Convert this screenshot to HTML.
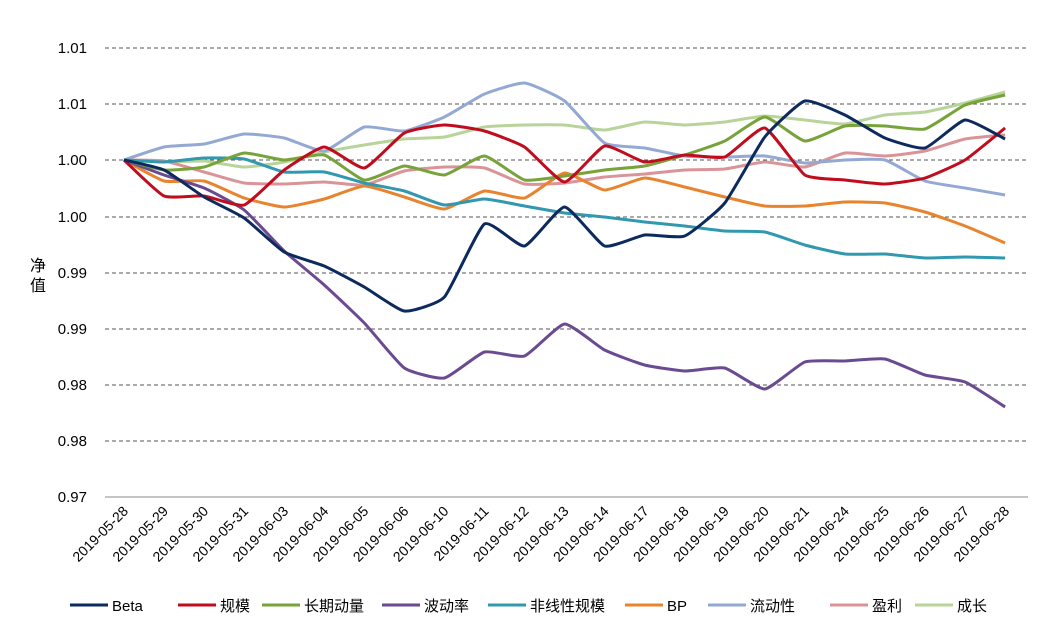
<!DOCTYPE html>
<html><head><meta charset="utf-8"><style>
body{margin:0;background:#fff;}
svg{display:block;font-family:"Liberation Sans","Noto Sans CJK SC",sans-serif;}
</style></head><body>
<svg id="chart" width="1041" height="627" viewBox="0 0 1041 627" xmlns="http://www.w3.org/2000/svg">
<g stroke="#555" stroke-dasharray="4,3" stroke-width="1">
<line x1="105" x2="1028" y1="48" y2="48"/><line x1="105" x2="1028" y1="104" y2="104"/>
<line x1="105" x2="1028" y1="160" y2="160"/><line x1="105" x2="1028" y1="217" y2="217"/>
<line x1="105" x2="1028" y1="273" y2="273"/><line x1="105" x2="1028" y1="329" y2="329"/>
<line x1="105" x2="1028" y1="385" y2="385"/><line x1="105" x2="1028" y1="441" y2="441"/>
</g>
<line x1="105" x2="1028" y1="497" y2="497" stroke="#888"/>
<g font-size="15" fill="#000" text-anchor="end">
<text x="87" y="53">1.01</text><text x="87" y="109">1.01</text><text x="87" y="165">1.00</text>
<text x="87" y="222">1.00</text><text x="87" y="278">0.99</text><text x="87" y="334">0.99</text>
<text x="87" y="390">0.98</text><text x="87" y="446">0.98</text><text x="87" y="502">0.97</text>
</g>
<text x="30" y="271" font-size="16">净</text><text x="30" y="291" font-size="16">值</text>
<g font-size="14" text-anchor="end" id="xl"></g>
<g fill="none" stroke-width="3" stroke-linejoin="round" id="series"></g>
<g font-size="15" id="leg"></g>
</svg>
<script>
var xs=[];for(var i=0;i<23;i++)xs.push(124+i*40.05);
var dates=["2019-05-28","2019-05-29","2019-05-30","2019-05-31","2019-06-03","2019-06-04","2019-06-05","2019-06-06","2019-06-10","2019-06-11","2019-06-12","2019-06-13","2019-06-14","2019-06-17","2019-06-18","2019-06-19","2019-06-20","2019-06-21","2019-06-24","2019-06-25","2019-06-26","2019-06-27","2019-06-28"];
var ns="http://www.w3.org/2000/svg";
var xl=document.getElementById("xl");
dates.forEach(function(d,i){var t=document.createElementNS(ns,"text");t.setAttribute("transform","translate("+(xs[i]+5)+",512) rotate(-45)");t.textContent=d;xl.appendChild(t);});
var S=[
["Beta","#0d2a5e",[160,170,197,218,252,266,287,311,297,224,246,207,246,235,236,203,137,101,115,138,148,120,139]],
["规模","#c00d1e",[160,196,196,205,170,147,168,133,125,131,147,182,146,162,155,157,128,175,180,184,178,160,128]],
["长期动量","#77a33a",[160,170,167,153,160,155,180,166,175,156,180,176,170,166,155,141,117,141,126,126,129,105,95]],
["波动率","#6a4b92",[160,175,188,210,251,285,323,368,378,352,356,324,350,365,371,368,389,362,361,359,375,382,407]],
["非线性规模","#3198b0",[160,162,158,159,172,172,183,191,205,199,206,213,217,222,226,231,232,245,254,254,258,257,258]],
["BP","#e8842e",[160,181,181,198,207,199,186,197,209,191,198,173,190,178,187,197,206,206,202,203,212,226,243]],
["流动性","#93a9d4",[160,147,144,134,138,151,127,131,117,94,83,101,143,148,156,157,156,163,160,160,181,188,195]],
["盈利","#da9497",[160,161,172,183,184,182,185,171,167,168,184,183,177,174,170,169,162,167,153,156,151,139,135]],
["成长","#b8d49a",[160,162,161,167,162,152,145,139,137,127,125,125,130,122,125,122,116,120,124,115,112,103,92]]];
function smooth(ys){var d="M"+xs[0]+","+ys[0];var t=0.08;var n=ys.length;
for(var i=0;i<n-1;i++){var p0=i>0?i-1:i,p3=(i+2<n)?i+2:i+1;
var c1x=xs[i]+(xs[i+1]-xs[p0])*t,c1y=ys[i]+(ys[i+1]-ys[p0])*t;
var c2x=xs[i+1]-(xs[p3]-xs[i])*t,c2y=ys[i+1]-(ys[p3]-ys[i])*t;
d+=" C"+c1x+","+c1y+" "+c2x+","+c2y+" "+xs[i+1]+","+ys[i+1];}return d;}
var g=document.getElementById("series"),lg=document.getElementById("leg");
var lx=[70,178,262,382,488,625,708,830,915];
for(var k=S.length-1;k>=0;k--){var s=S[k];var p=document.createElementNS(ns,"path");
p.setAttribute("d",smooth(s[2]));p.setAttribute("stroke",s[1]);g.appendChild(p);}
S.forEach(function(s,k){var l=document.createElementNS(ns,"line");l.setAttribute("x1",lx[k]);l.setAttribute("x2",lx[k]+38);l.setAttribute("y1",605);l.setAttribute("y2",605);l.setAttribute("stroke",s[1]);l.setAttribute("stroke-width",3);lg.appendChild(l);
var t=document.createElementNS(ns,"text");t.setAttribute("x",lx[k]+42);t.setAttribute("y",611);t.textContent=s[0];lg.appendChild(t);});
</script>
</body></html>
